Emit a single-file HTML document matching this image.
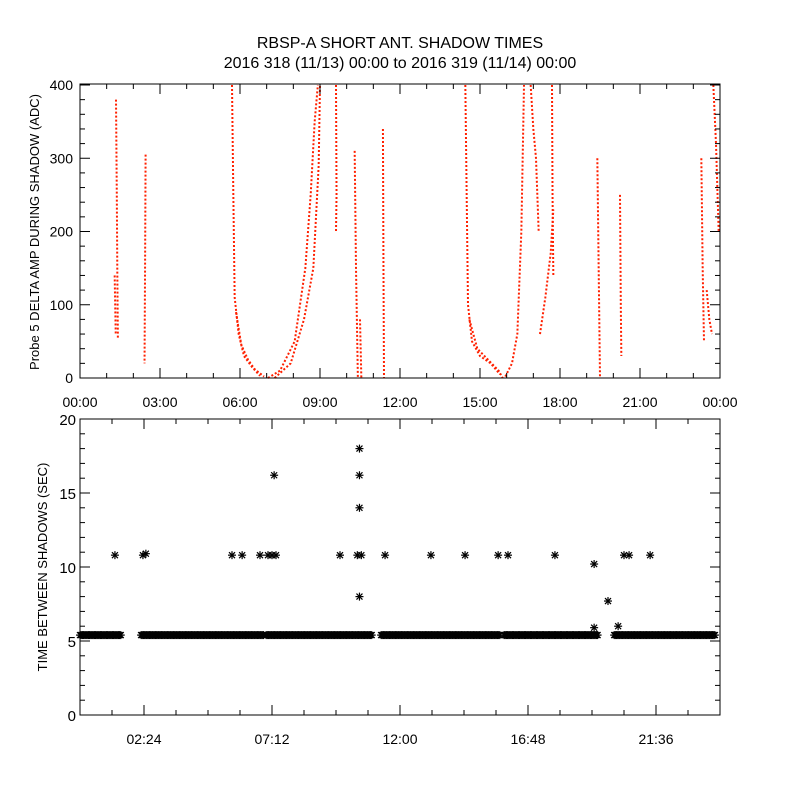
<!DOCTYPE html>
<html><head><meta charset="utf-8"><style>
body{margin:0;background:#fff}
svg text{font-family:"Liberation Sans",sans-serif;fill:#000}
</style></head><body>
<svg id="c" width="800" height="800" xmlns="http://www.w3.org/2000/svg">
<rect width="800" height="800" fill="#fff"/>
<text x="400" y="48" font-size="16" text-anchor="middle">RBSP-A SHORT ANT. SHADOW TIMES</text>
<text x="400" y="68" font-size="16" text-anchor="middle">2016 318 (11/13) 00:00 to 2016 319 (11/14) 00:00</text>
<g id="topPanel"></g>
<g id="botPanel"></g>
</svg>
<script>
// ---- top panel data: traces of [hour, amplitude]
const topTraces = [
 [[1.35,380],[1.38,250],[1.4,140],[1.42,55]],
 [[1.3,140],[1.34,60]],
 [[2.46,305],[2.44,150],[2.42,20]],
 [[5.7,400],[5.75,250],[5.8,110],[5.95,60],[6.15,30],[6.45,15],[6.75,3]],
 [[5.85,90],[6.05,45],[6.3,25],[6.55,12],[6.9,2]],
 [[7.05,0],[7.5,10],[8.05,50],[8.45,150],[8.65,250],[8.8,350],[8.92,400]],
 [[7.3,0],[7.9,20],[8.4,80],[8.75,150],[8.95,290],[9.0,400]],
 [[9.6,400],[9.62,250],[9.6,200]],
 [[10.3,310],[10.35,150],[10.42,0]],
 [[10.5,80],[10.55,0]],
 [[11.36,340],[11.38,150],[11.4,0]],
 [[14.45,400],[14.5,250],[14.55,100],[14.7,50],[15.0,30],[15.4,20],[15.75,5]],
 [[14.6,80],[14.9,40],[15.3,25],[15.7,10],[15.85,0]],
 [[15.95,2],[16.2,20],[16.4,60],[16.55,200],[16.65,400]],
 [[16.9,400],[17.0,340],[17.1,300],[17.2,200]],
 [[17.25,60],[17.45,110],[17.65,170],[17.75,230]],
 [[17.7,400],[17.72,250],[17.75,140]],
 [[19.4,300],[19.45,150],[19.5,0]],
 [[20.25,250],[20.28,100],[20.3,30]],
 [[23.3,300],[23.35,150],[23.4,50]],
 [[23.5,120],[23.6,80],[23.7,60]],
 [[23.75,400],[23.85,320],[23.95,200]]
];
const topXTicks = ["00:00","03:00","06:00","09:00","12:00","15:00","18:00","21:00","00:00"];
const topYTicks = [0,100,200,300,400];
// ---- bottom panel data
const bandSegments = [[0,1.57],[2.29,6.9],[6.98,10.95],[11.29,15.75],[15.9,19.43],[20.03,23.85]];
const bandValue = 5.4;
const outlierHours = [1.31,2.36,2.47,5.7,6.08,6.75,7.05,7.2,7.35,7.28,9.75,10.4,10.55,10.48,10.48,10.48,10.48,11.44,13.16,14.44,15.68,16.05,17.81,19.28,19.28,19.8,20.18,20.4,20.59,21.38];
const outlierValues = [10.8,10.8,10.9,10.8,10.8,10.8,10.8,10.8,10.8,16.2,10.8,10.8,10.8,18,16.2,14,8,10.8,10.8,10.8,10.8,10.8,10.8,10.2,5.9,7.7,6,10.8,10.8,10.8];
const botXTicks = ["02:24","07:12","12:00","16:48","21:36"];
const botYTicks = [0,5,10,15,20];

const NS="http://www.w3.org/2000/svg";
function mk(tag,attrs,parent){const e=document.createElementNS(NS,tag);for(const k in attrs)e.setAttribute(k,attrs[k]);parent.appendChild(e);return e;}
const L=80,R=720;
const xs=h=>L+h/24*(R-L);
const yT=v=>378-v*(293/400);
const yB=v=>715-v*(296/20);
const topG=document.getElementById('topPanel'), botG=document.getElementById('botPanel');

topTraces.forEach(tr=>{
 const p=mk('polyline',{points:tr.map(d=>xs(d[0])+','+yT(d[1])).join(' '),fill:'none',stroke:'#ff2000','stroke-width':2,'stroke-dasharray':'2 2'},topG);
 
 
});
let b=mk('rect',{x:L,y:yT(400)-1,width:R-L,height:yT(0)-yT(400)+1,fill:'none',stroke:'#000','stroke-width':1},topG);


for(let h=0;h<=24;h++){const x=xs(h),len=h%3==0?10:5;
 mk('line',{x1:x,x2:x,y1:yT(0),y2:yT(0)-len,stroke:'#000'},topG);
 mk('line',{x1:x,x2:x,y1:yT(400)-1,y2:yT(400)-1+len,stroke:'#000'},topG);}
topXTicks.forEach((t,i)=>{const e=mk('text',{x:xs(i*3),y:407,'font-size':14,'text-anchor':'middle'},topG);e.textContent=t;
 
 });
for(let v=0;v<=400;v+=20){const y=yT(v),len=v%100==0?10:5;
 mk('line',{x1:L,x2:L+len,y1:y,y2:y,stroke:'#000'},topG);
 mk('line',{x1:R,x2:R-len,y1:y,y2:y,stroke:'#000'},topG);}
topYTicks.forEach(v=>{const e=mk('text',{x:73,y:yT(v)+5,'font-size':14,'text-anchor':'end'},topG);e.textContent=v;
 
 });
let t1=mk('text',{x:0,y:0,'font-size':13,'text-anchor':'middle',transform:'translate(39,232) rotate(-90)'},topG);
t1.textContent='Probe 5 DELTA AMP DURING SHADOW (ADC)';



function star(x,y,name){const g=mk('g',{stroke:'#000','stroke-width':1.2},botG);
 
 
 const s=4;mk('line',{x1:x-s,x2:x+s,y1:y,y2:y},g);mk('line',{x1:x,x2:x,y1:y-s,y2:y+s},g);
 mk('line',{x1:x-3,x2:x+3,y1:y-3,y2:y+3},g);mk('line',{x1:x-3,x2:x+3,y1:y+3,y2:y-3},g);}
bandSegments.forEach(sg=>{for(let x=xs(sg[0]);x<=xs(sg[1]);x+=1.2)star(x,yB(bandValue),'band-asterisk');});
outlierHours.forEach((h,i)=>star(xs(h),yB(outlierValues[i]),'outlier-asterisk'));
b=mk('rect',{x:L,y:yB(20),width:R-L,height:yB(0)-yB(20),fill:'none',stroke:'#000'},botG);


for(let i=0;i<=20;i++){const x=xs(i*1.2);
 const l=[2,6,10,14,18].includes(i)?10:5;
 mk('line',{x1:x,x2:x,y1:yB(0),y2:yB(0)-l,stroke:'#000'},botG);
 mk('line',{x1:x,x2:x,y1:yB(20),y2:yB(20)+l,stroke:'#000'},botG);}
botXTicks.forEach((t,i)=>{const e=mk('text',{x:xs(2.4+i*4.8),y:744,'font-size':14,'text-anchor':'middle'},botG);e.textContent=t;
 
 });
for(let v=0;v<=20;v++){const y=yB(v),l=v%5==0?10:5;
 mk('line',{x1:L,x2:L+l,y1:y,y2:y,stroke:'#000'},botG);
 mk('line',{x1:R,x2:R-l,y1:y,y2:y,stroke:'#000'},botG);}
botYTicks.forEach(v=>{const e=mk('text',{x:76,y:yB(v)+6,'font-size':15,'text-anchor':'end'},botG);e.textContent=v;
 
 });
let t2=mk('text',{x:0,y:0,'font-size':13,'text-anchor':'middle',transform:'translate(47,567) rotate(-90)'},botG);
t2.textContent='TIME BETWEEN SHADOWS (SEC)';


</script>
</body></html>
